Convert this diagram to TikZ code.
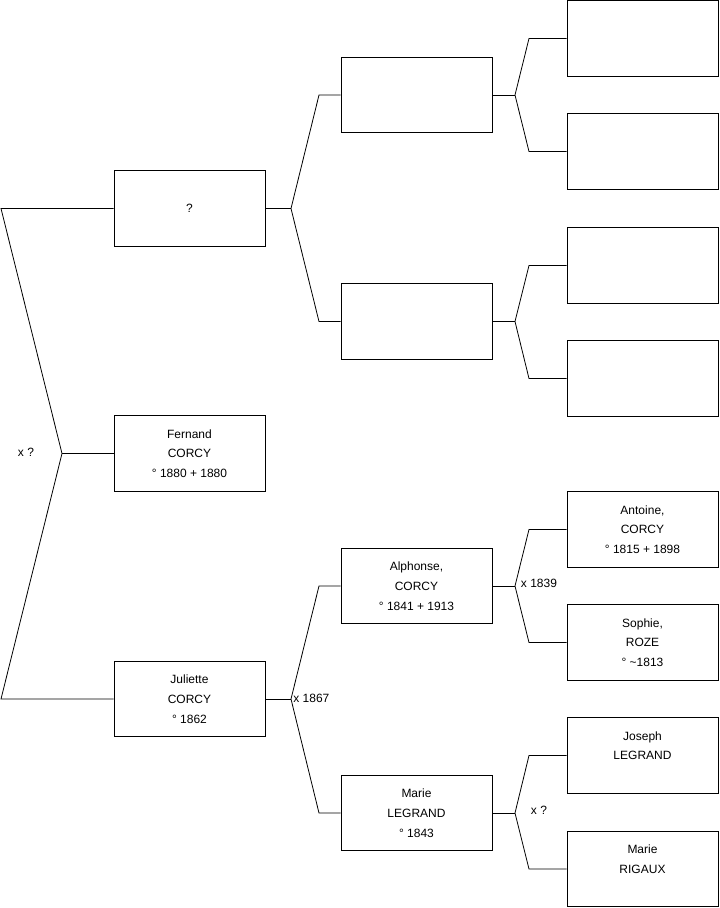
\documentclass[tikz,border=0pt]{standalone}
\usepackage{fontspec}
\setmainfont{Liberation Sans}
\usepackage{tikz}
\usetikzlibrary{positioning,calc}

\tikzset{
  person/.style={draw,line width=.6pt,minimum width=113.25pt,minimum height=56.5pt,
    align=center,font=\fontsize{9}{14.8}\selectfont,inner sep=0pt},
  union/.style={font=\fontsize{9}{11}\selectfont,inner sep=0pt}
}

\begin{document}
\begin{tikzpicture}[x=.75pt,y=-.75pt,line width=.6pt]
  \useasboundingbox (0,0) rectangle (719,908);
  % generation 1
  \node[person] (unknown)  at (189.5,208.5) {?};
  \node[person] (fernand)  at (189.5,453.5) {Fernand\\CORCY\\° 1880 + 1880};
  \node[person] (juliette) at (189.5,699)   {Juliette\\CORCY\\° 1862};
  % generation 2
  \node[person] (gpA)      at (416.5,95)    {};
  \node[person] (gpB)      at (416.5,321.5) {};
  \node[person] (alphonse) at (416.5,586)   {Alphonse,\\CORCY\\° 1841 + 1913};
  \node[person] (marieL)   at (416.5,813)   {Marie\\LEGRAND\\° 1843};
  % generation 3
  \node[person] (ggpA)     at (642.5,38.5)  {};
  \node[person] (ggpB)     at (642.5,151.5) {};
  \node[person] (ggpC)     at (642.5,265.5) {};
  \node[person] (ggpD)     at (642.5,378.5) {};
  \node[person] (antoine)  at (642.5,529.5) {Antoine,\\CORCY\\° 1815 + 1898};
  \node[person] (sophie)   at (642.5,642.5) {Sophie,\\ROZE\\° \textasciitilde1813};
  \node[person] (joseph)   at (642.5,755.5) {Joseph\\LEGRAND\\\mbox{}};
  \node[person] (marieR)   at (642.5,869)   {Marie\\RIGAUX\\\mbox{}};

  % forks
  \coordinate (f0) at (62,453.5);
  \coordinate (f0a) at (1,208.5);
  \coordinate (f0b) at (1,699);
  \draw (unknown.west) -- (f0a) -- (f0) -- (f0b) -- (juliette.west);
  \draw (f0) -- (fernand.west);
  \node[union] (u0) at (26,452) {x ?};

  \coordinate (f1) at (291,208.5);
  \draw (unknown.east) -- (f1);
  \draw (gpA.west) -- (319,95) -- (f1) -- (319,321.5) -- (gpB.west);

  \coordinate (f2) at (291,699);
  \draw (juliette.east) -- (f2);
  \draw (alphonse.west) -- (319,586) -- (f2) -- (319,813) -- (marieL.west);
  \node[union,anchor=west] (u2) at ($(f2)+(2,-1)$) {x 1867};

  \coordinate (f3) at (515,95);
  \draw (gpA.east) -- (f3);
  \draw (ggpA.west) -- (529,38.5) -- (f3) -- (529,151.5) -- (ggpB.west);

  \coordinate (f4) at (515,321.5);
  \draw (gpB.east) -- (f4);
  \draw (ggpC.west) -- (529,265.5) -- (f4) -- (529,378.5) -- (ggpD.west);

  \coordinate (f5) at (515,586);
  \draw (alphonse.east) -- (f5);
  \draw (antoine.west) -- (529,529.5) -- (f5) -- (529,642.5) -- (sophie.west);
  \node[union] (u5) at (539,583) {x 1839};

  \coordinate (f6) at (515,813);
  \draw (marieL.east) -- (f6);
  \draw (joseph.west) -- (529,755.5) -- (f6) -- (529,869) -- (marieR.west);
  \node[union] (u6) at (539,810) {x ?};
\end{tikzpicture}
\end{document}
